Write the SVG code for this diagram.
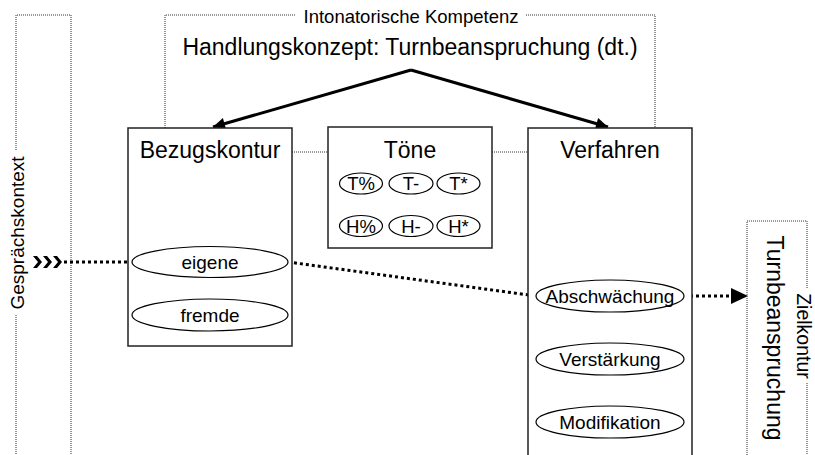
<svg xmlns="http://www.w3.org/2000/svg" width="815" height="455" viewBox="0 0 815 455">
<defs>
<style>
text{font-family:"Liberation Sans",Arial,sans-serif;fill:#000;}
.frame{fill:none;stroke:#333;stroke-width:1;stroke-dasharray:1 1;}
.box{fill:#fff;stroke:#222;stroke-width:1.5;}
.ell{fill:#fff;stroke:#000;stroke-width:1.2;}
.title{font-size:23px;text-anchor:middle;}
.lbl{font-size:19px;text-anchor:middle;}
.tone{font-size:18.5px;text-anchor:middle;}
.solid{fill:none;stroke:#000;stroke-width:3;}
.dot{fill:none;stroke:#000;stroke-width:3;stroke-dasharray:3 3;}
.thin{fill:none;stroke:#333;stroke-width:1;stroke-dasharray:1 1;}
</style>
<marker id="ah" viewBox="0 0 10 10" refX="10" refY="5" markerWidth="5.5" markerHeight="4" markerUnits="strokeWidth" orient="auto">
<path d="M0,0 L10,5 L0,10 z" fill="#000"/>
</marker>
</defs>

<g id="gespraechskontext">
<path class="frame" d="M16,150 V15 H71 V455"/>
<path class="frame" d="M16,315 V455"/>
<text transform="translate(24,233) rotate(-90)" style="font-size:19px;text-anchor:middle">Gesprächskontext</text>
<g fill="#000">
<polygon points="33,256 37,256 42,262 37,268 33,268 38,262"/>
<polygon points="43,256 47,256 52,262 47,268 43,268 48,262"/>
<polygon points="53,256 57,256 62,262 57,268 53,268 58,262"/>
</g>
</g>

<g id="kompetenz">
<path class="frame" d="M165,128 V15 H296"/>
<path class="frame" d="M526,15 H655 V128"/>
<text x="411" y="23" style="font-size:18.5px;text-anchor:middle">Intonatorische Kompetenz</text>
<text x="410" y="55" class="title">Handlungskonzept: Turnbeanspruchung (dt.)</text>
</g>

<g id="connectors">
<path class="solid" d="M411,70 L213,127" marker-end="url(#ah)"/>
<path class="solid" d="M411,70 L608,127" marker-end="url(#ah)"/>
<path class="thin" d="M292,152 H328"/>
<path class="thin" d="M492,152 H528"/>
<path class="dot" d="M64,262 H132"/>
<path class="dot" d="M288,262 L536,296"/>
<path class="dot" d="M684,296 H731"/>
<polygon points="731,288 748,296 731,304" fill="#000"/>
</g>

<g id="bezugskontur">
<rect class="box" x="128" y="128" width="164" height="218"/>
<text x="210" y="158" class="title">Bezugskontur</text>
<g id="eigene">
<ellipse class="ell" cx="210" cy="262" rx="78" ry="15.5"/>
<text x="210" y="268.5" class="lbl">eigene</text>
</g>
<g id="fremde">
<ellipse class="ell" cx="210" cy="315" rx="78" ry="16"/>
<text x="210" y="321.5" class="lbl">fremde</text>
</g>
</g>

<g id="toene">
<rect class="box" x="328" y="127" width="164" height="121"/>
<text x="410" y="158" class="title">Töne</text>
<ellipse class="ell" cx="361" cy="183.5" rx="21.5" ry="10.5"/>
<text x="361" y="190" class="tone">T%</text>
<ellipse class="ell" cx="411" cy="183.5" rx="22" ry="10.5"/>
<text x="411" y="190" class="tone">T-</text>
<ellipse class="ell" cx="458.5" cy="183.5" rx="21.5" ry="10.5"/>
<text x="458.5" y="190" class="tone">T*</text>
<ellipse class="ell" cx="361" cy="226" rx="21.5" ry="10.5"/>
<text x="361" y="232.5" class="tone">H%</text>
<ellipse class="ell" cx="411" cy="226" rx="22" ry="10.5"/>
<text x="411" y="232.5" class="tone">H-</text>
<ellipse class="ell" cx="458.5" cy="226" rx="21.5" ry="10.5"/>
<text x="458.5" y="232.5" class="tone">H*</text>
</g>

<g id="verfahren">
<path class="box" d="M528,460 V128 H692 V460"/>
<text x="610" y="158" class="title">Verfahren</text>
<g id="abschwaechung">
<ellipse class="ell" cx="610" cy="296" rx="74" ry="16"/>
<text x="610" y="302.5" class="lbl">Abschwächung</text>
</g>
<g id="verstaerkung">
<ellipse class="ell" cx="610" cy="359" rx="74" ry="16"/>
<text x="610" y="365.5" class="lbl">Verstärkung</text>
</g>
<g id="modifikation">
<ellipse class="ell" cx="610" cy="422" rx="74" ry="16"/>
<text x="610" y="428.5" class="lbl">Modifikation</text>
</g>
</g>

<g id="zielkontur">
<path class="frame" d="M747,455 V221 H807 V288"/>
<path class="frame" d="M807,383 V455"/>
<text transform="translate(797,336) rotate(90)" style="font-size:19.5px;text-anchor:middle">Zielkontur</text>
<text transform="translate(767,338) rotate(90)" class="title">Turnbeanspruchung</text>
</g>
</svg>
